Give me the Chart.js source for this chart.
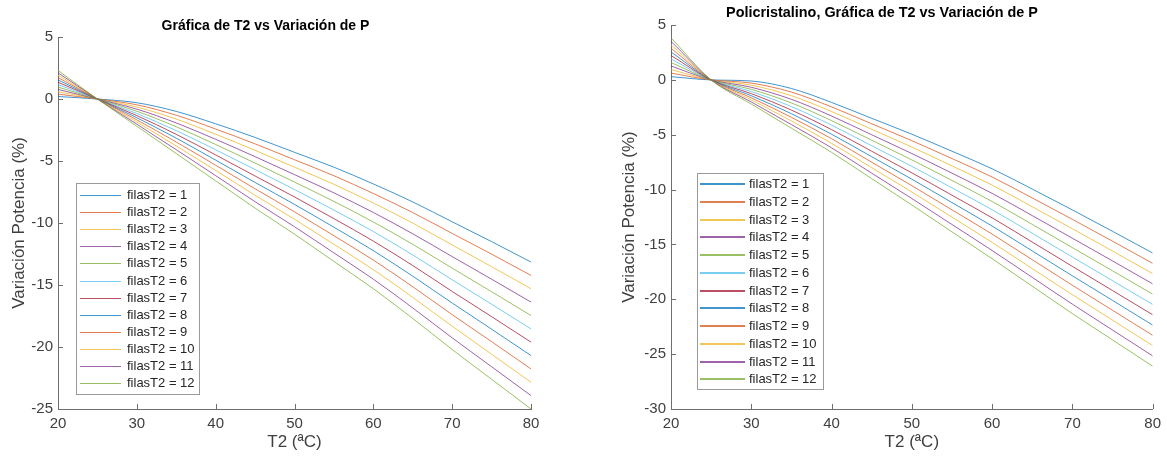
<!DOCTYPE html>
<html>
<head>
<meta charset="utf-8">
<script src="https://cdn.jsdelivr.net/npm/chart.js@4.4.1/dist/chart.umd.min.js"></script>
<style>
  html, body { margin: 0; padding: 0; background: #fff; }
  #wrap { position: relative; width: 1167px; height: 459px; overflow: hidden; }
  .pane { position: absolute; top: 0; height: 459px; }
</style>
</head>
<body>
<div id="wrap">
  <div class="pane" style="left:0;width:583px"><canvas id="chartA"></canvas></div>
  <div class="pane" style="left:583px;width:584px"><canvas id="chartB"></canvas></div>
</div>
<script>
// T2 (ºC) sample points, shared by both plots
const temps = [20, 25, 30, 35, 40, 45, 50, 55, 60, 65, 70, 75, 80];
const filas = [1, 2, 3, 4, 5, 6, 7, 8, 9, 10, 11, 12];

// left plot: Gráfica de T2 vs Variación de P
const pA1  = [0.20, 0, -0.30, -1.00, -2.00, -3.10, -4.30, -5.50, -6.85, -8.30, -9.90, -11.50, -13.15];
const pA2  = [0.39, 0, -0.47, -1.31, -2.42, -3.62, -4.90, -6.19, -7.62, -9.16, -10.84, -12.51, -14.23];
const pA3  = [0.58, 0, -0.65, -1.62, -2.84, -4.14, -5.50, -6.88, -8.39, -10.01, -11.77, -13.52, -15.30];
const pA4  = [0.77, 0, -0.82, -1.93, -3.25, -4.65, -6.10, -7.57, -9.15, -10.87, -12.71, -14.53, -16.38];
const pA5  = [0.96, 0, -0.99, -2.24, -3.67, -5.17, -6.70, -8.26, -9.92, -11.72, -13.64, -15.54, -17.46];
const pA6  = [1.16, 0, -1.17, -2.55, -4.09, -5.69, -7.30, -8.96, -10.69, -12.58, -14.58, -16.55, -18.54];
const pA7  = [1.35, 0, -1.34, -2.85, -4.51, -6.21, -7.90, -9.65, -11.46, -13.43, -15.52, -17.55, -19.61];
const pA8  = [1.54, 0, -1.51, -3.16, -4.93, -6.73, -8.50, -10.34, -12.23, -14.29, -16.45, -18.56, -20.69];
const pA9  = [1.73, 0, -1.68, -3.47, -5.34, -7.24, -9.10, -11.03, -12.99, -15.14, -17.39, -19.57, -21.77];
const pA10 = [1.92, 0, -1.86, -3.78, -5.76, -7.76, -9.70, -11.72, -13.76, -16.00, -18.32, -20.58, -22.84];
const pA11 = [2.11, 0, -2.03, -4.09, -6.18, -8.28, -10.30, -12.41, -14.53, -16.85, -19.26, -21.59, -23.92];
const pA12 = [2.30, 0, -2.20, -4.40, -6.60, -8.80, -10.90, -13.10, -15.30, -17.70, -20.20, -22.60, -25.00];

// right plot: Policristalino
const pB1  = [0.30, 0, -0.10, -0.78, -2.05, -3.50, -4.95, -6.50, -8.10, -9.95, -11.85, -13.80, -15.78];
const pB2  = [0.62, 0, -0.29, -1.11, -2.46, -4.00, -5.54, -7.17, -8.85, -10.76, -12.71, -14.70, -16.72];
const pB3  = [0.94, 0, -0.48, -1.44, -2.88, -4.50, -6.12, -7.84, -9.59, -11.56, -13.57, -15.60, -17.66];
const pB4  = [1.27, 0, -0.67, -1.77, -3.29, -5.00, -6.71, -8.50, -10.34, -12.37, -14.43, -16.50, -18.59];
const pB5  = [1.59, 0, -0.86, -2.10, -3.71, -5.50, -7.29, -9.17, -11.08, -13.17, -15.29, -17.40, -19.53];
const pB6  = [1.91, 0, -1.06, -2.43, -4.12, -6.00, -7.88, -9.84, -11.83, -13.98, -16.15, -18.30, -20.47];
const pB7  = [2.23, 0, -1.25, -2.75, -4.53, -6.50, -8.47, -10.51, -12.57, -14.78, -17.00, -19.20, -21.41];
const pB8  = [2.55, 0, -1.44, -3.08, -4.95, -7.00, -9.05, -11.18, -13.32, -15.59, -17.86, -20.10, -22.35];
const pB9  = [2.88, 0, -1.63, -3.41, -5.36, -7.50, -9.64, -11.84, -14.06, -16.39, -18.72, -21.00, -23.28];
const pB10 = [3.20, 0, -1.82, -3.74, -5.78, -8.00, -10.22, -12.51, -14.81, -17.20, -19.58, -21.90, -24.22];
const pB11 = [3.52, 0, -2.01, -4.07, -6.19, -8.50, -10.81, -13.18, -15.55, -18.00, -20.44, -22.80, -25.16];
const pB12 = [3.84, 0, -2.20, -4.40, -6.60, -9.00, -11.40, -13.85, -16.30, -18.80, -21.30, -23.70, -26.10];

const seriesA = [pA1, pA2, pA3, pA4, pA5, pA6, pA7, pA8, pA9, pA10, pA11, pA12];
const seriesB = [pB1, pB2, pB3, pB4, pB5, pB6, pB7, pB8, pB9, pB10, pB11, pB12];

// matlab default line order (a bit washed out, the lines are hairlines in the original)
const COLORS = ['rgba(0,114,189,0.75)', 'rgba(217,83,25,0.75)', 'rgba(237,177,32,0.75)',
                'rgba(126,47,142,0.75)', 'rgba(119,172,48,0.75)', 'rgba(77,190,238,0.75)',
                'rgba(162,20,47,0.75)'];
const AXIS = '#6e6e6e';
const TXT = '#404040';
const FONT = '"Liberation Sans", Arial, sans-serif';

// matlab puts tick marks inside the axes
const inTicks = {
  id: 'inTicks',
  afterDatasetsDraw(chart) {
    const {ctx, chartArea: a, scales: {x, y}} = chart;
    ctx.save();
    ctx.strokeStyle = AXIS;
    ctx.lineWidth = 1;
    ctx.beginPath();
    x.ticks.forEach(t => {
      const px = Math.round(x.getPixelForValue(t.value)) + 0.5;
      ctx.moveTo(px, a.bottom); ctx.lineTo(px, a.bottom - 5);
    });
    y.ticks.forEach(t => {
      const py = Math.round(y.getPixelForValue(t.value)) + 0.5;
      ctx.moveTo(a.left, py); ctx.lineTo(a.left + 5, py);
    });
    ctx.stroke();
    ctx.restore();
  }
};

// legend box sitting inside the plot, lower left
const boxLegend = {
  id: 'boxLegend',
  afterDatasetsDraw(chart, args, o) {
    const ctx = chart.ctx;
    ctx.save();
    ctx.fillStyle = '#fff';
    ctx.fillRect(o.x, o.y, o.w, o.h);
    ctx.strokeStyle = '#9a9a9a';
    ctx.lineWidth = 1;
    ctx.strokeRect(o.x + 0.5, o.y + 0.5, o.w, o.h);
    ctx.font = '13px ' + FONT;
    ctx.textBaseline = 'middle';
    ctx.textAlign = 'left';
    chart.data.datasets.forEach((ds, i) => {
      const yy = Math.round(o.row0 + i * o.pitch) + (o.lw % 2 ? 0.5 : 0);
      ctx.strokeStyle = ds.borderColor;
      ctx.lineWidth = o.lw;
      ctx.beginPath(); ctx.moveTo(o.lx0, yy); ctx.lineTo(o.lx1, yy); ctx.stroke();
      ctx.fillStyle = '#262626';
      ctx.fillText(ds.label, o.tx, yy);
    });
    ctx.restore();
  }
};

function makeChart(id, title, series, yMin, g) {
  const datasets = series.map((vals, i) => ({
    label: 'filasT2 = ' + filas[i],
    data: temps.map((t, j) => ({x: t, y: vals[j]})),
    borderColor: COLORS[i % COLORS.length],
    borderWidth: 1,
    pointRadius: 0,
    cubicInterpolationMode: 'monotone',
    order: series.length - i
  }));
  return new Chart(document.getElementById(id), {
    type: 'line',
    data: {datasets},
    plugins: [inTicks, boxLegend],
    options: {
      responsive: true, maintainAspectRatio: false, animation: false,
      layout: {padding: g.pad},
      plugins: {
        legend: {display: false},
        tooltip: {enabled: false},
        title: {display: true, text: title, color: '#000',
          font: {family: FONT, size: g.titleSize, weight: 'bold'},
          padding: g.titlePad},
        boxLegend: g.legend
      },
      scales: {
        x: {
          type: 'linear', min: 20, max: 80,
          afterFit: s => { s.height = g.xH; },
          grid: {drawOnChartArea: false, drawTicks: false},
          border: {display: true, color: AXIS},
          ticks: {stepSize: 10, color: TXT, padding: 6, font: {family: FONT, size: 15}},
          title: {display: true, text: 'T2 (ªC)', color: TXT, padding: {top: 0, bottom: 6},
            font: {family: FONT, size: 17}}
        },
        y: {
          min: yMin, max: 5,
          afterFit: s => { s.width = g.yW; },
          grid: {drawOnChartArea: false, drawTicks: false},
          border: {display: true, color: AXIS},
          ticks: {stepSize: 5, color: TXT, padding: 5, font: {family: FONT, size: 15}},
          title: {display: true, text: 'Variación Potencia (%)', color: TXT,
            padding: {top: g.yTitleTop, bottom: 0}, font: {family: FONT, size: 17}}
        }
      }
    }
  });
}

makeChart('chartA', 'Gráfica de T2 vs Variación de P', seriesA, -25, {
  pad: {left: 0, right: 52, top: 10, bottom: 0},
  titleSize: 14, titlePad: {top: 7.6, bottom: 2.6},
  xH: 50, yW: 58, yTitleTop: 9,
  legend: {x: 76, y: 183, w: 123, h: 211, row0: 195, pitch: 17.1, lx0: 80, lx1: 121, tx: 127, lw: 1}
});

makeChart('chartB', 'Policristalino, Gráfica de T2 vs Variación de P', seriesB, -30, {
  pad: {left: 25, right: 11, top: 0, bottom: 0},
  titleSize: 14.4, titlePad: {top: 4.4, bottom: 3.4},
  xH: 50, yW: 63, yTitleTop: 11,
  legend: {x: 114, y: 173, w: 126, h: 216, row0: 184, pitch: 17.75, lx0: 117, lx1: 162, tx: 166, lw: 2}
});
</script>
</body>
</html>
